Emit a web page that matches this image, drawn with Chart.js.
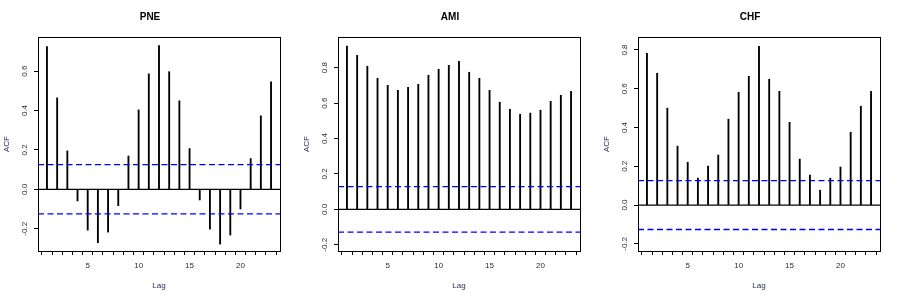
<!DOCTYPE html>
<html>
<head>
<meta charset="utf-8">
<script src="https://cdn.jsdelivr.net/npm/chart.js@4"></script>
<style>
  html, body { margin: 0; padding: 0; background: #fff; }
  #wrap { display: flex; width: 900px; height: 300px; }
  canvas { display: block; }
</style>
</head>
<body>
<div id="wrap">
  <canvas id="c1" width="300" height="300"></canvas>
  <canvas id="c2" width="300" height="300"></canvas>
  <canvas id="c3" width="300" height="300"></canvas>
</div>
<script>
const lags = [1,2,3,4,5,6,7,8,9,10,11,12,13,14,15,16,17,18,19,20,21,22,23];
const xTickLabels = [5, 10, 15, 20];

const pneTitle = 'PNE';
const pneAcf = [0.725,0.464,0.195,-0.059,-0.207,-0.271,-0.217,-0.083,0.169,0.403,0.586,0.730,0.597,0.449,0.207,-0.054,-0.202,-0.278,-0.232,-0.100,0.156,0.373,0.546];
const pneCi = 0.125;
const pneYTicks = [-0.2, 0.0, 0.2, 0.4, 0.6];
const pneYRange = [-0.313, 0.773];

const amiTitle = 'AMI';
const amiAcf = [0.922,0.869,0.808,0.740,0.700,0.672,0.689,0.706,0.757,0.791,0.813,0.836,0.774,0.740,0.672,0.605,0.565,0.537,0.543,0.560,0.610,0.644,0.667];
const amiCi = 0.128;
const amiYTicks = [-0.2, 0.0, 0.2, 0.4, 0.6, 0.8];
const amiYRange = [-0.235, 0.973];

const chfTitle = 'CHF';
const chfAcf = [0.783,0.680,0.500,0.304,0.221,0.139,0.201,0.258,0.443,0.582,0.664,0.819,0.649,0.587,0.427,0.237,0.155,0.077,0.139,0.196,0.376,0.510,0.587];
const chfCi = 0.126;
const chfYTicks = [-0.2, 0.0, 0.2, 0.4, 0.6, 0.8];
const chfYRange = [-0.237, 0.867];

const xRange = [0.12, 23.88];
const textColor = '#2b2b2b';
const axisTitleColor = '#2a3050';

function makeChart(id, title, acf, ci, yTicks, yRange) {
  const frameAndLabels = {
    id: 'frameAndLabels',
    afterDraw(chart) {
      const ctx = chart.ctx;
      const a = chart.chartArea;
      const ys = chart.scales.y;
      ctx.save();
      ctx.strokeStyle = '#000';
      ctx.lineWidth = 1;
      ctx.strokeRect(Math.round(a.left) + 0.5, Math.round(a.top) + 0.5,
                     Math.round(a.right - a.left), Math.round(a.bottom - a.top));
      ctx.fillStyle = textColor;
      ctx.font = '8px "Liberation Sans", Arial, sans-serif';
      ctx.textAlign = 'center';
      ctx.textBaseline = 'middle';
      yTicks.forEach(v => {
        const py = ys.getPixelForValue(v);
        ctx.save();
        ctx.translate(a.left - 13, py);
        ctx.rotate(-Math.PI / 2);
        ctx.fillText(v.toFixed(1), 0, 0);
        ctx.restore();
      });
      ctx.restore();
    }
  };

  return new Chart(document.getElementById(id), {
    type: 'bar',
    data: {
      datasets: [
        {
          type: 'line',
          data: [{x: xRange[0], y: 0}, {x: xRange[1], y: 0}],
          borderColor: '#000', borderWidth: 1.3, pointRadius: 0, order: 1
        },
        {
          type: 'line',
          data: [{x: xRange[0], y: ci}, {x: xRange[1], y: ci}],
          borderColor: '#0000ff', borderWidth: 1.3, borderDash: [6, 3.5], pointRadius: 0, order: 0
        },
        {
          type: 'line',
          data: [{x: xRange[0], y: -ci}, {x: xRange[1], y: -ci}],
          borderColor: '#0000ff', borderWidth: 1.3, borderDash: [6, 3.5], pointRadius: 0, order: 0
        },
        {
          type: 'bar',
          data: lags.map((l, i) => ({x: l, y: acf[i]})),
          backgroundColor: '#000', borderWidth: 0,
          barThickness: 1.2, order: 2
        }
      ]
    },
    options: {
      responsive: false,
      animation: false,
      events: [],
      layout: { padding: { left: 0, right: 0, top: 0, bottom: 0 } },
      plugins: {
        legend: { display: false },
        tooltip: { enabled: false },
        title: {
          display: true, text: title, color: '#000',
          font: { family: '"Liberation Sans", Arial, sans-serif', size: 10, weight: 'bold', lineHeight: 1.2 },
          padding: { top: 11, bottom: 14 }
        }
      },
      scales: {
        x: {
          type: 'linear', min: xRange[0], max: xRange[1], offset: false,
          afterBuildTicks(s) { s.ticks = lags.map(v => ({value: v})); },
          afterFit(s) { s.height = 49; },
          ticks: {
            autoSkip: false, maxRotation: 0, minRotation: 0, padding: 6,
            color: textColor,
            font: { family: '"Liberation Sans", Arial, sans-serif', size: 8 },
            callback: v => xTickLabels.includes(v) ? String(v) : ''
          },
          grid: { display: true, drawOnChartArea: false, drawTicks: true, tickLength: 4, tickColor: '#000', tickWidth: 1 },
          border: { display: false },
          title: {
            display: true, text: 'Lag', color: axisTitleColor,
            font: { family: '"Liberation Sans", Arial, sans-serif', size: 8 },
            padding: { top: 0, bottom: 9 }
          }
        },
        y: {
          type: 'linear', min: yRange[0], max: yRange[1],
          afterBuildTicks(s) { s.ticks = yTicks.map(v => ({value: v})); },
          afterFit(s) { s.width = 38; },
          ticks: { callback: () => '', padding: 0 },
          grid: { display: true, drawOnChartArea: false, drawTicks: true, tickLength: 4, tickColor: '#000', tickWidth: 1 },
          border: { display: false },
          title: {
            display: true, text: 'ACF', color: axisTitleColor,
            font: { family: '"Liberation Sans", Arial, sans-serif', size: 8 },
            padding: { top: 2, bottom: 0 }
          }
        },
        yRight: {
          type: 'linear', position: 'right', min: yRange[0], max: yRange[1],
          display: true,
          afterFit(s) { s.width = 20; },
          ticks: { display: false },
          grid: { display: false },
          border: { display: false }
        }
      }
    },
    plugins: [frameAndLabels]
  });
}

makeChart('c1', pneTitle, pneAcf, pneCi, pneYTicks, pneYRange);
makeChart('c2', amiTitle, amiAcf, amiCi, amiYTicks, amiYRange);
makeChart('c3', chfTitle, chfAcf, chfCi, chfYTicks, chfYRange);
</script>
</body>
</html>
